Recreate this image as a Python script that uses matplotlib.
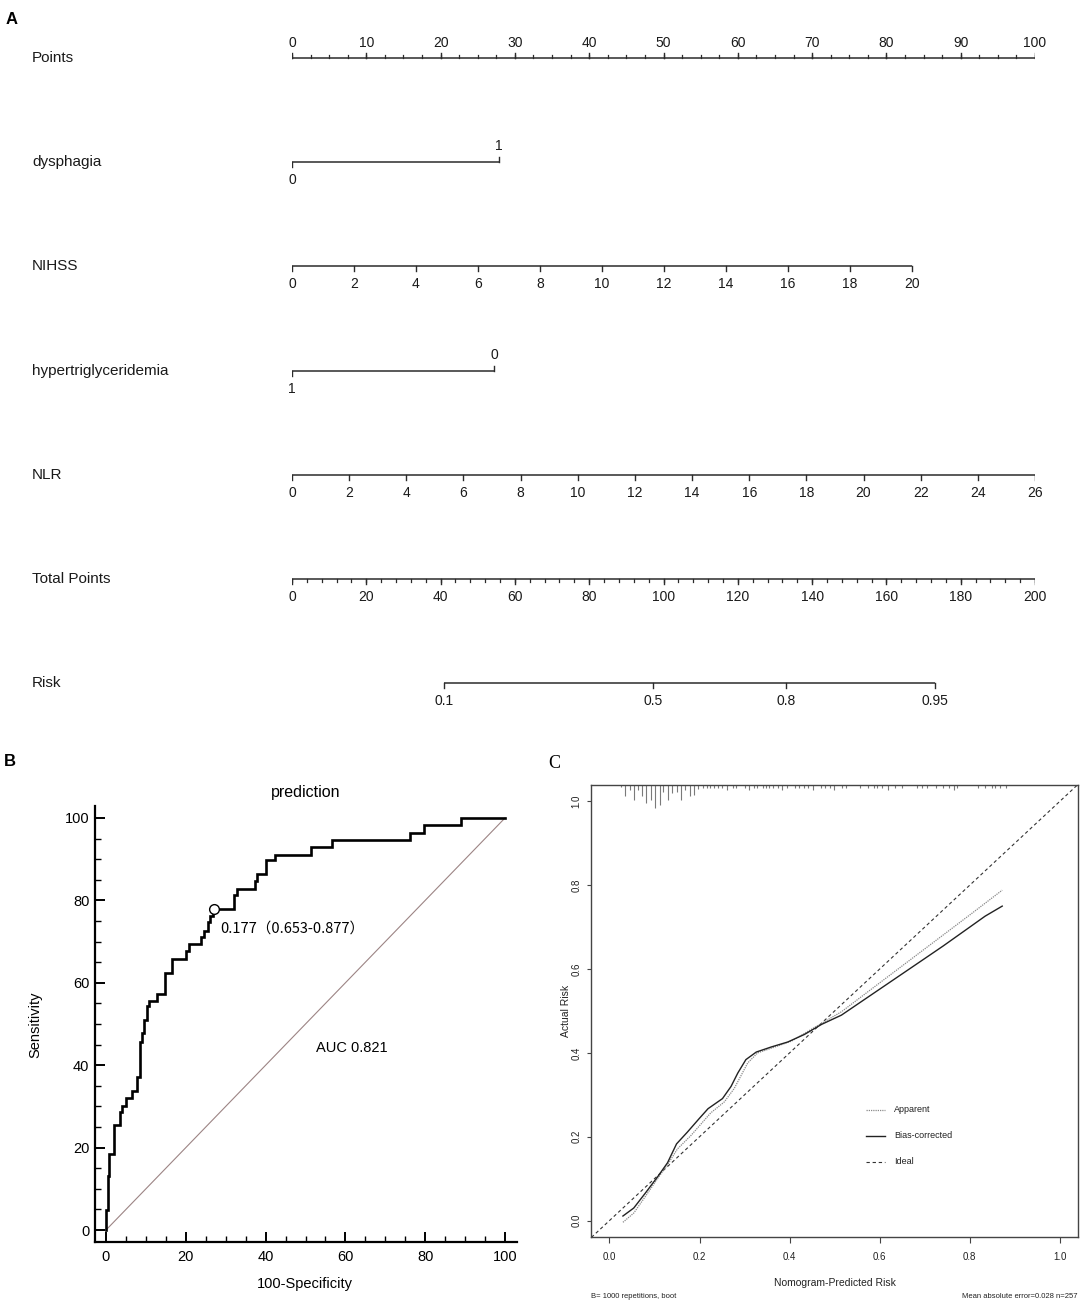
import numpy as np
import matplotlib
matplotlib.use('Agg')
import matplotlib.pyplot as plt
from matplotlib.transforms import blended_transform_factory, ScaledTranslation

plt.rcParams['font.family'] = ['Liberation Sans', 'DejaVu Sans']
NARROW = ['Liberation Sans Narrow', 'Liberation Sans', 'DejaVu Sans']

# ---------------- data ----------------
# Nomogram (A)
row_names = ['Points', 'dysphagia', 'NIHSS', 'hypertriglyceridemia', 'NLR', 'Total Points', 'Risk']
points_ticks = [0, 10, 20, 30, 40, 50, 60, 70, 80, 90, 100]
points_minor_step = 2.5
dysphagia_levels = ['0', '1']
dysphagia_points = [0.0, 27.9]
nihss_values = [0, 2, 4, 6, 8, 10, 12, 14, 16, 18, 20]
nihss_points_at_max = 83.4
htg_levels = ['1', '0']
htg_points = [0.0, 27.2]
nlr_values = [0, 2, 4, 6, 8, 10, 12, 14, 16, 18, 20, 22, 24, 26]
nlr_points_at_max = 100.0
total_ticks = [0, 20, 40, 60, 80, 100, 120, 140, 160, 180, 200]
total_minor_step = 4
risk_ticks = [0.1, 0.5, 0.8, 0.95]
risk_labels = ['0.1', '0.5', '0.8', '0.95']
risk_tp_at_half = 97.3      # total points where risk = 0.5
risk_tp_per_logit = 25.7    # total points per unit of logit

# ROC (B)
roc_fpr = [0, 0, 0.4, 0.4, 0.8, 0.8, 2.1, 2.1, 3.5, 3.5, 4.0, 4.0, 4.9, 4.9, 6.5, 6.5,
           7.8, 7.8, 8.6, 8.6, 9.1, 9.1, 9.6, 9.6, 10.2, 10.2, 10.7, 10.7, 12.7, 12.7,
           14.8, 14.8, 16.6, 16.6, 20.0, 20.0, 20.7, 20.7, 23.9, 23.9, 24.5, 24.5,
           25.6, 25.6, 26.1, 26.1, 26.9, 26.9, 32.1, 32.1, 32.8, 32.8, 37.4, 37.4,
           37.9, 37.9, 40.1, 40.1, 42.4, 42.4, 51.5, 51.5, 56.7, 56.7, 76.1, 76.1,
           79.8, 79.8, 88.9, 88.9, 100]
roc_tpr = [0, 4.8, 4.8, 13.0, 13.0, 18.4, 18.4, 25.4, 25.4, 28.7, 28.7, 30.1, 30.1, 32.0, 32.0, 33.8,
           33.8, 37.1, 37.1, 45.6, 45.6, 47.7, 47.7, 51.0, 51.0, 54.3, 54.3, 55.7, 55.7, 57.4,
           57.4, 62.3, 62.3, 65.8, 65.8, 67.7, 67.7, 69.3, 69.3, 71.0, 71.0, 72.6,
           72.6, 74.7, 74.7, 76.3, 76.3, 77.9, 77.9, 81.3, 81.3, 82.8, 82.8, 84.6,
           84.6, 86.4, 86.4, 89.9, 89.9, 91.1, 91.1, 92.9, 92.9, 94.7, 94.7, 96.4,
           96.4, 98.2, 98.2, 100, 100]
cut_fpr, cut_tpr = 27.0, 78.0
cut_text = '0.177（0.653-0.877）'
auc_text = 'AUC 0.821'

# Calibration (C)
app_x = [0.030, 0.054, 0.080, 0.108, 0.130, 0.151, 0.181, 0.225, 0.255, 0.277, 0.307, 0.329,
         0.367, 0.404, 0.448, 0.515, 0.600, 0.700, 0.800, 0.872]
app_y = [-0.004, 0.018, 0.058, 0.102, 0.135, 0.171, 0.203, 0.257, 0.283, 0.315, 0.376, 0.400,
         0.414, 0.428, 0.456, 0.498, 0.567, 0.648, 0.729, 0.788]
bias_x = [0.030, 0.054, 0.080, 0.108, 0.129, 0.149, 0.173, 0.199, 0.219, 0.251, 0.270, 0.285,
          0.303, 0.326, 0.359, 0.396, 0.433, 0.471, 0.515, 0.600, 0.700, 0.741, 0.800, 0.834, 0.872]
bias_y = [0.011, 0.030, 0.066, 0.106, 0.138, 0.183, 0.211, 0.243, 0.267, 0.291, 0.320, 0.352,
          0.384, 0.402, 0.414, 0.426, 0.444, 0.468, 0.490, 0.552, 0.625, 0.655, 0.700, 0.726, 0.750]
rug_x = [0.025, 0.035, 0.045, 0.054, 0.064, 0.073, 0.081, 0.093, 0.102, 0.112, 0.120, 0.130,
         0.140, 0.149, 0.158, 0.168, 0.178, 0.187, 0.197, 0.207, 0.216, 0.224, 0.232, 0.241,
         0.251, 0.262, 0.274, 0.282, 0.301, 0.309, 0.320, 0.328, 0.340, 0.347, 0.355, 0.364,
         0.374, 0.384, 0.394, 0.413, 0.421, 0.431, 0.440, 0.452, 0.469, 0.479, 0.490, 0.498,
         0.517, 0.525, 0.556, 0.575, 0.587, 0.594, 0.606, 0.618, 0.633, 0.649, 0.683, 0.695,
         0.706, 0.726, 0.741, 0.753, 0.764, 0.772, 0.818, 0.834, 0.849, 0.857, 0.868, 0.880]
rug_len = [0.007, 0.028, 0.012, 0.036, 0.012, 0.028, 0.045, 0.036, 0.057, 0.050, 0.018, 0.037,
           0.020, 0.017, 0.036, 0.012, 0.028, 0.025, 0.010, 0.009, 0.009, 0.009, 0.009, 0.009,
           0.009, 0.013, 0.009, 0.009, 0.009, 0.013, 0.009, 0.009, 0.009, 0.009, 0.009, 0.009,
           0.009, 0.013, 0.009, 0.009, 0.009, 0.009, 0.009, 0.013, 0.009, 0.009, 0.009, 0.013,
           0.009, 0.009, 0.009, 0.009, 0.009, 0.009, 0.009, 0.013, 0.009, 0.009, 0.009, 0.009,
           0.009, 0.009, 0.009, 0.009, 0.013, 0.009, 0.009, 0.009, 0.009, 0.009, 0.009, 0.009]
cal_ticks = [0.0, 0.2, 0.4, 0.6, 0.8, 1.0]
cal_ticklabels = ['0.0', '0.2', '0.4', '0.6', '0.8', '1.0']
legend_names = ['Apparent', 'Bias-corrected', 'Ideal']
sub_left = 'B= 1000 repetitions, boot'
sub_right = 'Mean absolute error=0.028 n=257'

# ---------------- figure ----------------
W, H = 1084, 1313
DPI = 100
fig = plt.figure(figsize=(W / DPI, H / DPI), dpi=DPI)


def px_rect(l, t, r, b):
    return [l / W, 1 - b / H, (r - l) / W, (b - t) / H]


def fx(x):
    return x / W


def fy(y):
    return 1 - y / H


# ================= Panel A: nomogram =================
ROW_PX = 104.2
FIRST_ROW = 58
ax = fig.add_axes(px_rect(292, 0, 1035, 735))
ax.set_xlim(0, 100)
ax.set_ylim(-(735 - FIRST_ROW) / ROW_PX, FIRST_ROW / ROW_PX)
ax.axis('off')
LC = '#2b2b2b'
MAJ = 5 / ROW_PX
MIN = 3 / ROW_PX


def offset(dy_px):
    return ax.transData + ScaledTranslation(0, dy_px / DPI, fig.dpi_scale_trans)


def draw_row(i, pos, labels, dirs, minor=None, above_off=15, below_off=-18):
    y = -i
    pos = np.asarray(pos, dtype=float)
    ax.plot([pos.min(), pos.max()], [y, y], color=LC, lw=1.1, solid_capstyle='butt')
    if minor is not None:
        for m in minor:
            d = dirs[0]
            ax.plot([m, m], [y, y + d * MIN], color=LC, lw=0.9)
    for p, lab, d in zip(pos, labels, dirs):
        ax.plot([p, p], [y, y + d * MAJ], color=LC, lw=1.0)
        off = above_off if d > 0 else below_off
        ax.text(p, y, lab, transform=offset(off), ha='center', va='center',
                fontsize=10, color='#1a1a1a')
    lab_tr = blended_transform_factory(fig.transFigure, ax.transData)
    ax.text(32 / W, y, row_names[i], transform=lab_tr, ha='left', va='center',
            fontsize=11, color='#1a1a1a')


# Points
pmin = np.arange(0, 100 + 1e-9, points_minor_step)
draw_row(0, points_ticks, [str(v) for v in points_ticks], [1] * len(points_ticks),
         minor=pmin, above_off=15)
# dysphagia
draw_row(1, dysphagia_points, dysphagia_levels, [-1, 1], above_off=16)
# NIHSS
nihss_pos = [v / max(nihss_values) * nihss_points_at_max for v in nihss_values]
draw_row(2, nihss_pos, [str(v) for v in nihss_values], [-1] * len(nihss_values))
# hypertriglyceridemia
draw_row(3, htg_points, htg_levels, [-1, 1], above_off=16)
# NLR
nlr_pos = [v / max(nlr_values) * nlr_points_at_max for v in nlr_values]
draw_row(4, nlr_pos, [str(v) for v in nlr_values], [-1] * len(nlr_values))
# Total points
tmin = np.arange(0, 200 + 1e-9, total_minor_step) / 2.0
draw_row(5, [t / 2.0 for t in total_ticks], [str(v) for v in total_ticks],
         [-1] * len(total_ticks), minor=tmin)
# Risk
risk_tp = [risk_tp_at_half + risk_tp_per_logit * np.log(p / (1 - p)) for p in risk_ticks]
draw_row(6, [t / 2.0 for t in risk_tp], risk_labels, [-1] * len(risk_ticks))

fig.text(fx(12), fy(20), 'A', fontsize=12, fontweight='bold', ha='center', va='center')

# ================= Panel B: ROC =================
axB = fig.add_axes(px_rect(95, 805.6, 517, 1242))
axB.set_xlim(-2.75, 103)
axB.set_ylim(-2.9, 103)
for s in ['top', 'right']:
    axB.spines[s].set_visible(False)
for s in ['left', 'bottom']:
    axB.spines[s].set_linewidth(1.6)
axB.set_xticks(range(0, 101, 20))
axB.set_yticks(range(0, 101, 20))
axB.set_xticks(range(0, 101, 5), minor=True)
axB.set_yticks(range(0, 101, 5), minor=True)
axB.tick_params(which='major', direction='in', length=7.5, width=1.4, labelsize=10.5, pad=6)
axB.tick_params(which='minor', direction='in', length=4.5, width=1.0)
axB.tick_params(axis='y', pad=4)
axB.plot([0, 100], [0, 100], color='#9c8484', lw=0.8)
axB.plot(roc_fpr, roc_tpr, color='black', lw=1.9, solid_joinstyle='miter')
axB.plot([cut_fpr], [cut_tpr], 'o', mfc='white', mec='black', ms=7, mew=1.0, zorder=5)
axB.text(28.6, 73.1, cut_text, fontsize=10.5, ha='left', va='center',
         family=['Noto Sans CJK SC', 'DejaVu Sans'])
axB.text(61.7, 44.1, auc_text, fontsize=10.5, ha='center', va='center')
fig.text(fx(306), fy(792), 'prediction', fontsize=11.5, ha='center', va='center')
fig.text(fx(305), fy(1284), '100-Specificity', fontsize=10.5, ha='center', va='center')
fig.text(fx(35), fy(1025), 'Sensitivity', fontsize=10.5, ha='center', va='center', rotation=90)
fig.text(fx(10), fy(762), 'B', fontsize=12, fontweight='bold', ha='center', va='center')

# ================= Panel C: calibration =================
FC = '#444444'
axC = fig.add_axes(px_rect(591.4, 784.5, 1077.9, 1237.4))
axC.set_xlim(-0.04, 1.04)
axC.set_ylim(-0.04, 1.04)
for s in axC.spines.values():
    s.set_color(FC)
    s.set_linewidth(1.0)
axC.set_xticks(cal_ticks)
axC.set_xticklabels(cal_ticklabels)
axC.set_yticks(cal_ticks)
axC.set_yticklabels(cal_ticklabels, rotation=90, va='center')
axC.tick_params(axis='x', direction='out', length=4.5, width=0.8, color=FC,
                labelcolor='#222222', labelsize=7, pad=6)
axC.tick_params(axis='y', direction='out', length=3, width=0.8, color=FC,
                labelcolor='#222222', labelsize=7, pad=4)
axC.axline((0, 0), (1, 1), color='#333333', lw=0.8, linestyle=(0, (3, 2.5)))
axC.plot(app_x, app_y, color='#8a8a8a', lw=0.9, linestyle=(0, (1, 0.8)))
axC.plot(bias_x, bias_y, color='#222222', lw=1.0)
axC.vlines(rug_x, [1.04 - l for l in rug_len], 1.04, color='#7a7a7a', lw=0.8)

# legend
lx0 = (865.6 - 591.4) / 486.5
lx1 = (885.0 - 591.4) / 486.5
ltx = (894.0 - 591.4) / 486.5
ly = [(1237.4 - 1109.5) / 452.9, (1237.4 - 1135.5) / 452.9, (1237.4 - 1161.6) / 452.9]
styles = [dict(color='#8a8a8a', lw=0.9, linestyle=(0, (1, 0.8))),
          dict(color='#222222', lw=1.0),
          dict(color='#333333', lw=0.8, linestyle=(0, (3, 2.5)))]
for name, yy, st in zip(legend_names, ly, styles):
    axC.plot([lx0, lx1], [yy, yy], transform=axC.transAxes, **st)
    axC.text(ltx, yy, name, transform=axC.transAxes, ha='left', va='center',
             fontsize=6.5, family=NARROW, color='#222222')

fig.text(fx(834.6), fy(1283), 'Nomogram-Predicted Risk', fontsize=7.5, family=NARROW,
         ha='center', va='center', color='#222222')
fig.text(fx(566), fy(1011), 'Actual Risk', fontsize=7.5, ha='center', va='center',
         rotation=90, color='#222222')
fig.text(fx(591.4), fy(1297), sub_left, fontsize=5.5, family=NARROW, ha='left',
         va='center', color='#222222')
fig.text(fx(1077.9), fy(1297), sub_right, fontsize=5.5, family=NARROW, ha='right',
         va='center', color='#222222')
fig.text(fx(554), fy(764), 'C', fontsize=13, ha='center', va='center',
         family=['Liberation Serif', 'DejaVu Serif'])

fig.savefig('out.png', dpi=DPI)
